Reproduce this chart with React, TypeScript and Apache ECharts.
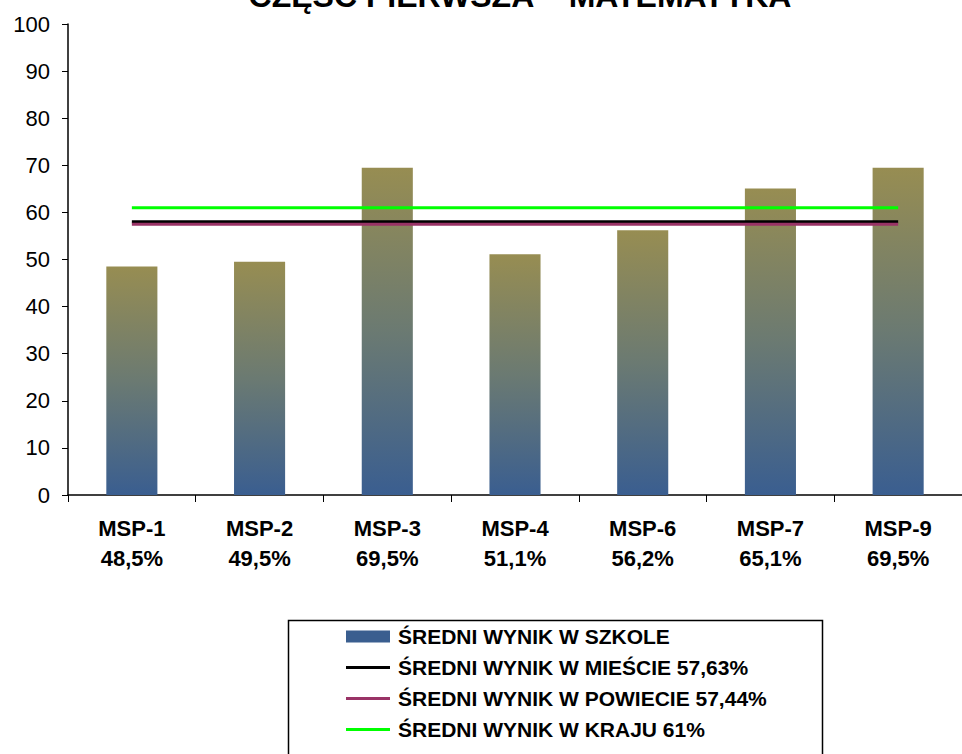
import React, { useEffect, useRef } from "react";
import * as echarts from "echarts";

const categories = ["MSP-1", "MSP-2", "MSP-3", "MSP-4", "MSP-6", "MSP-7", "MSP-9"];
const percentLabels = ["48,5%", "49,5%", "69,5%", "51,1%", "56,2%", "65,1%", "69,5%"];
const schoolScores = [48.5, 49.5, 69.5, 51.1, 56.2, 65.1, 69.5];
const cityAverage = [58, 58, 58, 58, 58, 58, 58];
const countyAverage = [57.5, 57.5, 57.5, 57.5, 57.5, 57.5, 57.5];
const countryAverage = [61, 61, 61, 61, 61, 61, 61];
const seriesNames = [
  "ŚREDNI WYNIK W SZKOLE",
  "ŚREDNI WYNIK W MIEŚCIE 57,63%",
  "ŚREDNI WYNIK W POWIECIE 57,44%",
  "ŚREDNI WYNIK W KRAJU 61%",
];
const titleText = "CZĘŚĆ PIERWSZA – MATEMATYKA";

const FONT = "Arial, 'Liberation Sans', sans-serif";
const LINE_ICON = "path://M0,0H42V3H0Z";

export default function App() {
  const ref = useRef<HTMLDivElement>(null);
  useEffect(() => {
    if (!ref.current) return;
    const chart = echarts.init(ref.current, undefined, { renderer: "svg" });
    chart.setOption({
      animation: false,
      backgroundColor: "#ffffff",
      textStyle: { fontFamily: FONT },
      graphic: [
        {
          type: "text",
          x: 520,
          y: 12,
          style: {
            text: titleText,
            fontFamily: FONT,
            fontSize: 32,
            fontWeight: "bold",
            fill: "#000",
            textAlign: "center",
            textVerticalAlign: "bottom",
          },
        },
        {
          type: "rect",
          shape: { x: 288.5, y: 620.5, width: 534, height: 200 },
          style: { fill: "none", stroke: "#000", lineWidth: 1.5 },
          z: 1,
        },
      ],
      grid: { left: 68, top: 24, bottom: 259, right: -9, containLabel: false },
      legend: {
        orient: "vertical",
        left: 288,
        top: 620,
        itemWidth: 44,
        itemHeight: 12,
        itemGap: 10,
        padding: [6, 10, 2, 58],
        textStyle: {
          fontFamily: FONT,
          fontSize: 21,
          fontWeight: "bold",
          color: "#000",
          padding: [0, 0, 0, 3],
        },
        data: [
          { name: seriesNames[0], icon: "rect", itemStyle: { color: "#3a5e8f" } },
          { name: seriesNames[1], icon: LINE_ICON, itemStyle: { color: "#000000" } },
          { name: seriesNames[2], icon: LINE_ICON, itemStyle: { color: "#993366" } },
          { name: seriesNames[3], icon: LINE_ICON, itemStyle: { color: "#00ff00" } },
        ],
      },
      xAxis: {
        type: "category",
        data: categories,
        boundaryGap: true,
        axisLine: { lineStyle: { color: "#000", width: 1.5 } },
        axisTick: { show: true, length: 7, lineStyle: { color: "#000" } },
        axisLabel: {
          margin: 18,
          interval: 0,
          formatter: (v: string, i: number) => `{a|${v}}\n{a|${percentLabels[i]}}`,
          rich: {
            a: { fontFamily: FONT, fontSize: 22, fontWeight: "bold", color: "#000", lineHeight: 30 },
          },
        },
      },
      yAxis: {
        type: "value",
        min: 0,
        max: 100,
        interval: 10,
        splitLine: { show: false },
        axisLine: { show: true, lineStyle: { color: "#000", width: 1.5 } },
        axisTick: { show: true, length: 6, lineStyle: { color: "#000" } },
        axisLabel: { margin: 18, fontFamily: FONT, fontSize: 22, color: "#000" },
      },
      series: [
        {
          name: seriesNames[0],
          type: "bar",
          data: schoolScores,
          barWidth: "40%",
          itemStyle: {
            color: new echarts.graphic.LinearGradient(0, 0, 0, 1, [
              { offset: 0, color: "#978d52" },
              { offset: 0.5, color: "#6b7a72" },
              { offset: 1, color: "#3a5e90" },
            ]),
          },
        },
        {
          name: seriesNames[1],
          type: "line",
          data: cityAverage,
          symbol: "none",
          lineStyle: { color: "#000000", width: 3 },
          itemStyle: { color: "#000000" },
        },
        {
          name: seriesNames[2],
          type: "line",
          data: countyAverage,
          symbol: "none",
          lineStyle: { color: "#993366", width: 3 },
          itemStyle: { color: "#993366" },
        },
        {
          name: seriesNames[3],
          type: "line",
          data: countryAverage,
          symbol: "none",
          lineStyle: { color: "#00ff00", width: 3 },
          itemStyle: { color: "#00ff00" },
        },
      ],
    });
    return () => chart.dispose();
  }, []);
  return (
    <div
      ref={ref}
      style={{ position: "fixed", left: 0, top: 0, width: 962, height: 754 }}
    />
  );
}
